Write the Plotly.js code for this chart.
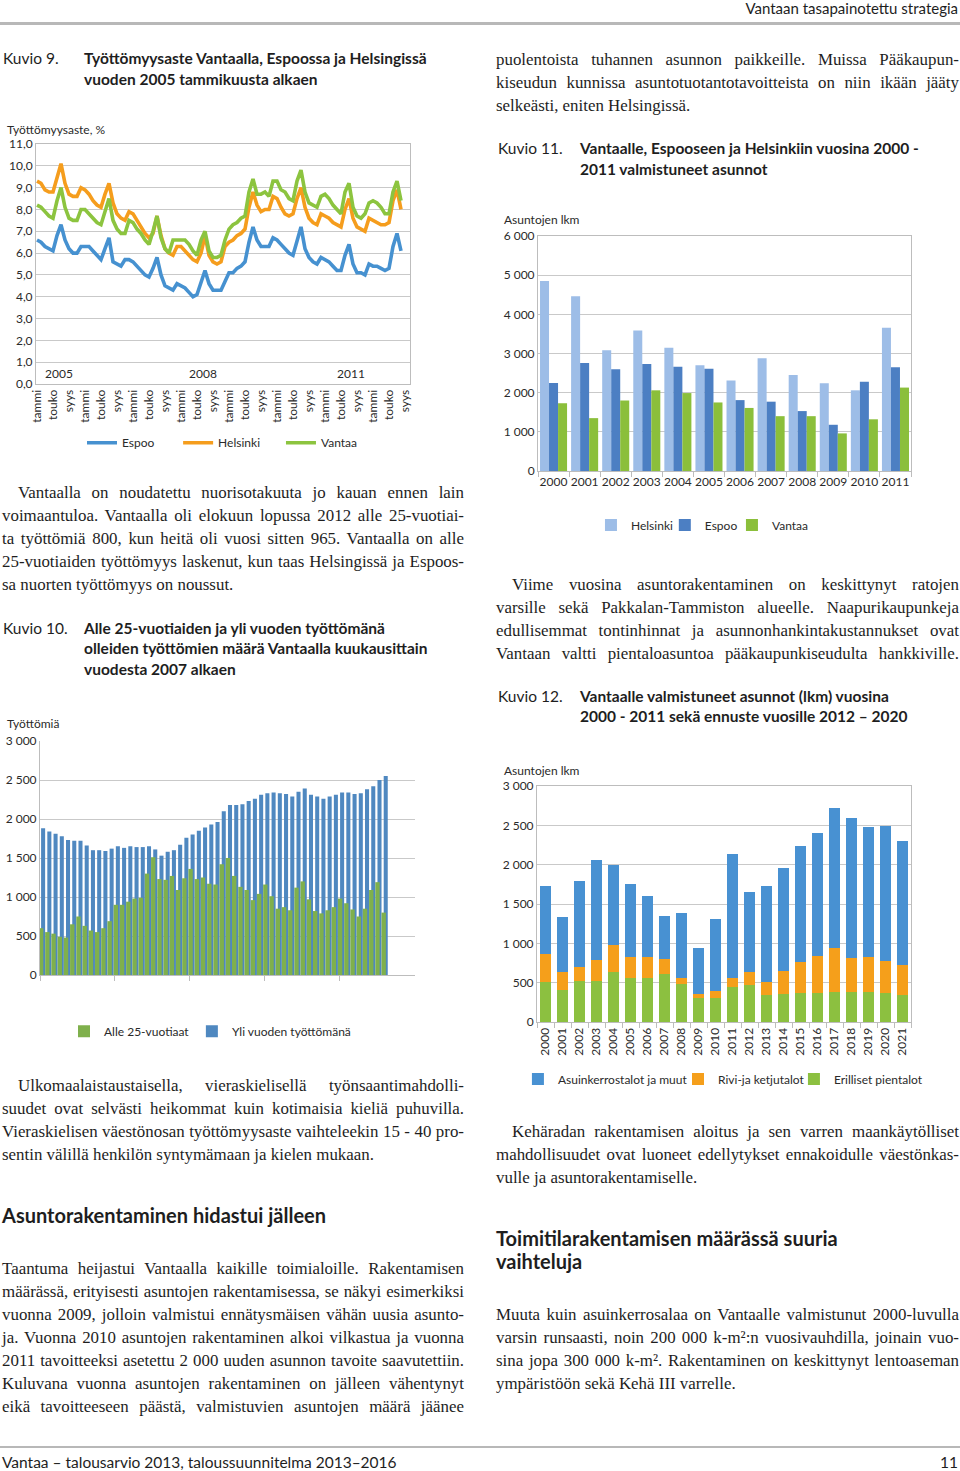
<!DOCTYPE html>
<html><head><meta charset="utf-8">
<script src="https://cdn.plot.ly/plotly-3.0.1.min.js"></script>
<style>
html,body{margin:0;padding:0;background:#fff;}
#page{position:relative;width:960px;height:1471px;overflow:hidden;background:#fff;color:#1e1e1e;}
.s{position:absolute;font-family:'Lato',sans-serif;white-space:nowrap;}
.p{position:absolute;font-family:'Liberation Serif',serif;font-size:16.9px;line-height:23px;color:#1e1e1e;}
.p div{white-space:nowrap;}
.p .j{text-align:justify;text-align-last:justify;}
.rule{position:absolute;left:0;width:960px;background:#b8b8b8;}
.ch{position:absolute;}
</style></head>
<body><div id="page">
<div class="s" style="right:2px;top:-2px;font-size:15px;line-height:20px;">Vantaan tasapainotettu strategia</div>
<div class="rule" style="top:22px;height:3px;"></div>

<div class="s" style="left:3px;top:48px;font-size:15.5px;line-height:21px;">Kuvio 9.</div>
<div class="s" style="left:84px;top:48px;font-size:15.5px;line-height:21px;font-weight:bold;">Työttömyysaste Vantaalla, Espoossa ja Helsingissä<br>vuoden 2005 tammikuusta alkaen</div>

<div class="p" style="left:2px;top:480.5px;width:462px;">
<div class="j" style="padding-left:16px;">Vantaalla on noudatettu nuorisotakuuta jo kauan ennen lain</div>
<div class="j">voimaantuloa. Vantaalla oli elokuun lopussa 2012 alle 25-vuotiai-</div>
<div class="j">ta työttömiä 800, kun heitä oli vuosi sitten 965. Vantaalla on alle</div>
<div class="j">25-vuotiaiden työttömyys laskenut, kun taas Helsingissä ja Espoos-</div>
<div>sa nuorten työttömyys on noussut.</div>
</div>

<div class="s" style="left:3px;top:617.5px;font-size:15.5px;line-height:20.5px;">Kuvio 10.</div>
<div class="s" style="left:84px;top:617.5px;font-size:15.5px;line-height:20.5px;font-weight:bold;">Alle 25-vuotiaiden ja yli vuoden työttömänä<br>olleiden työttömien määrä Vantaalla kuukausittain<br>vuodesta 2007 alkaen</div>

<div class="p" style="left:2px;top:1073.5px;width:462px;">
<div class="j" style="padding-left:16px;">Ulkomaalaistaustaisella, vieraskielisellä työnsaantimahdolli-</div>
<div class="j">suudet ovat selvästi heikommat kuin kotimaisia kieliä puhuvilla.</div>
<div class="j">Vieraskielisen väestönosan työttömyysaste vaihteleekin 15 - 40 pro-</div>
<div>sentin välillä henkilön syntymämaan ja kielen mukaan.</div>
</div>

<div class="s" style="left:2px;top:1203px;font-size:20px;line-height:24px;font-weight:bold;">Asuntorakentaminen hidastui jälleen</div>

<div class="p" style="left:2px;top:1256.5px;width:462px;">
<div class="j">Taantuma heijastui Vantaalla kaikille toimialoille. Rakentamisen</div>
<div class="j">määrässä, erityisesti asuntojen rakentamisessa, se näkyi esimerkiksi</div>
<div class="j">vuonna 2009, jolloin valmistui ennätysmäisen vähän uusia asunto-</div>
<div class="j">ja. Vuonna 2010 asuntojen rakentaminen alkoi vilkastua ja vuonna</div>
<div class="j">2011 tavoitteeksi asetettu 2 000 uuden asunnon tavoite saavutettiin.</div>
<div class="j">Kuluvana vuonna asuntojen rakentaminen on jälleen vähentynyt</div>
<div class="j">eikä tavoitteeseen päästä, valmistuvien asuntojen määrä jäänee</div>
</div>

<div class="p" style="left:496px;top:47.5px;width:463px;">
<div class="j">puolentoista tuhannen asunnon paikkeille. Muissa Pääkaupun-</div>
<div class="j">kiseudun kunnissa asuntotuotantotavoitteista on niin ikään jääty</div>
<div>selkeästi, eniten Helsingissä.</div>
</div>

<div class="s" style="left:498px;top:137.5px;font-size:15.5px;line-height:21px;">Kuvio 11.</div>
<div class="s" style="left:580px;top:137.5px;font-size:15.5px;line-height:21px;font-weight:bold;">Vantaalle, Espooseen ja Helsinkiin vuosina 2000 -<br>2011 valmistuneet asunnot</div>

<div class="p" style="left:496px;top:572.5px;width:463px;">
<div class="j" style="padding-left:16px;">Viime vuosina asuntorakentaminen on keskittynyt ratojen</div>
<div class="j">varsille sekä Pakkalan-Tammiston alueelle. Naapurikaupunkeja</div>
<div class="j">edullisemmat tontinhinnat ja asunnonhankintakustannukset ovat</div>
<div class="j">Vantaan valtti pientaloasuntoa pääkaupunkiseudulta hankkiville.</div>
</div>

<div class="s" style="left:498px;top:685.5px;font-size:15.5px;line-height:20.5px;">Kuvio 12.</div>
<div class="s" style="left:580px;top:685.5px;font-size:15.5px;line-height:20.5px;font-weight:bold;">Vantaalle valmistuneet asunnot (lkm) vuosina<br>2000 - 2011 sekä ennuste vuosille 2012 – 2020</div>

<div class="p" style="left:496px;top:1119.5px;width:463px;">
<div class="j" style="padding-left:16px;">Kehäradan rakentamisen aloitus ja sen varren maankäytölliset</div>
<div class="j">mahdollisuudet ovat luoneet edellytykset ennakoidulle väestönkas-</div>
<div>vulle ja asuntorakentamiselle.</div>
</div>

<div class="s" style="left:496px;top:1226.5px;font-size:20px;line-height:23px;font-weight:bold;">Toimitilarakentamisen määrässä suuria<br>vaihteluja</div>

<div class="p" style="left:496px;top:1302.5px;width:463px;">
<div class="j">Muuta kuin asuinkerrosalaa on Vantaalle valmistunut 2000-luvulla</div>
<div class="j">varsin runsaasti, noin 200 000 k-m²:n vuosivauhdilla, joinain vuo-</div>
<div class="j">sina jopa 300 000 k-m². Rakentaminen on keskittynyt lentoaseman</div>
<div>ympäristöön sekä Kehä III varrelle.</div>
</div>

<div class="rule" style="top:1446px;height:2px;"></div>
<div class="s" style="left:2px;top:1452px;font-size:15.5px;line-height:20px;">Vantaa – talousarvio 2013, taloussuunnitelma 2013–2016</div>
<div class="s" style="right:2px;top:1452px;font-size:15.5px;line-height:20px;">11</div>

<div id="c9" class="ch" style="left:0;top:120px;width:420px;height:340px;"></div>
<div id="c10" class="ch" style="left:0;top:700px;width:430px;height:360px;"></div>
<div id="c11" class="ch" style="left:490px;top:200px;width:470px;height:350px;"></div>
<div id="c12" class="ch" style="left:490px;top:750px;width:470px;height:350px;"></div>
</div>
<script>
// ---------- Kuvio 9: unemployment rate, monthly Jan 2005 – Aug 2012 ----------
var monthLabels9 = ['tammi','touko','syys'];
var yearLabels9 = ['2005','2008','2011'];
var espoo9 = [
 6.6,6.5,6.3,6.2,6.1,6.8,7.3,6.6,6.2,6.0,6.0,6.3,
 6.3,6.3,6.1,5.9,5.7,6.2,6.7,5.6,5.5,5.4,5.7,5.7,
 5.6,5.4,5.2,5.0,4.9,5.3,5.8,5.0,4.5,4.4,4.3,4.6,
 4.5,4.4,4.2,4.0,4.1,4.6,5.2,4.6,4.3,4.3,4.3,4.7,
 5.1,5.1,5.3,5.4,5.6,6.5,7.2,6.6,6.3,6.3,6.3,6.7,
 6.6,6.4,6.2,6.0,5.9,6.6,7.2,6.2,5.8,5.6,5.5,5.8,
 5.7,5.6,5.4,5.2,5.2,5.9,6.4,5.5,5.1,5.1,5.0,5.5,
 5.4,5.4,5.3,5.2,5.3,6.3,6.9,6.1];
var helsinki9 = [
 9.3,9.2,8.9,8.8,8.8,9.5,10.1,9.2,8.7,8.6,8.6,9.0,
 8.9,8.7,8.4,8.2,8.1,8.7,9.2,8.3,7.8,7.6,7.5,7.9,
 7.8,7.5,7.2,6.9,6.7,6.9,7.7,6.8,6.2,6.0,5.9,6.3,
 6.3,6.1,5.9,5.7,5.6,6.0,6.8,5.9,5.6,5.5,5.6,6.3,
 6.5,6.6,6.8,6.9,7.1,8.1,8.8,8.2,7.9,8.0,8.0,8.6,
 8.5,8.1,7.8,7.7,7.8,8.5,9.0,8.1,7.6,7.4,7.3,7.8,
 7.7,7.6,7.4,7.3,7.2,8.0,8.5,7.6,7.2,7.1,7.0,7.6,
 7.5,7.4,7.3,7.3,7.4,8.4,8.9,8.0];
var vantaa9 = [
 8.2,8.1,7.9,7.7,7.6,8.4,9.0,8.1,7.6,7.5,7.5,8.0,
 8.0,7.8,7.6,7.4,7.3,7.9,8.5,7.5,7.1,6.9,6.9,7.5,
 7.4,7.1,6.9,6.6,6.4,7.0,7.7,6.7,6.2,6.0,6.6,6.6,
 6.6,6.6,6.4,6.1,5.9,6.6,7.0,6.1,5.8,5.8,5.9,6.6,
 7.1,7.3,7.4,7.6,7.7,8.8,9.4,8.7,8.7,8.8,8.6,9.3,
 9.3,8.9,8.8,8.5,8.4,9.3,9.8,8.8,8.3,8.2,8.1,8.6,
 8.7,8.5,8.2,8.0,7.8,8.8,9.2,8.1,7.7,7.6,7.8,8.3,
 8.4,8.3,8.1,7.8,7.8,8.8,9.3,8.4];

// ---------- Kuvio 10: monthly Jan 2008 – Aug 2012 ----------
var yearLabels10 = ['2008','2010','2012'];
var alle25 = [600,550,530,490,480,650,750,630,570,550,600,690,
 900,900,940,980,990,1300,1510,1230,1220,1270,1090,1240,
 1360,1230,1250,1170,1160,1420,1500,1270,1130,1090,960,1040,
 1160,1010,850,870,830,1120,1200,970,820,790,830,870,
 980,920,840,750,850,1090,1190,800];
var yliVuoden = [1880,1840,1810,1780,1730,1720,1720,1660,1600,1600,1590,1620,
 1650,1630,1650,1640,1640,1650,1610,1530,1580,1600,1670,1760,
 1800,1850,1890,1930,1960,2100,2180,2180,2190,2230,2260,2310,
 2330,2340,2330,2320,2290,2350,2390,2310,2290,2260,2290,2310,
 2340,2340,2320,2330,2380,2420,2500,2550];

// ---------- Kuvio 11 ----------
var years11 = ['2000','2001','2002','2003','2004','2005','2006','2007','2008','2009','2010','2011'];
var helsinki11 = [4850,4460,3080,3590,3150,2700,2310,2880,2450,2240,2060,3660];
var espoo11 = [2250,2760,2600,2730,2660,2610,1810,1770,1530,1180,2280,2650];
var vantaa11 = [1730,1350,1800,2060,1990,1750,1610,1400,1400,960,1320,2130];

// ---------- Kuvio 12 ----------
var years12 = ['2000','2001','2002','2003','2004','2005','2006','2007','2008','2009','2010',
 '2011','2012','2013','2014','2015','2016','2017','2018','2019','2020','2021'];
var erilliset = [505,410,515,515,635,565,565,615,480,300,310,440,465,345,355,370,365,385,380,380,375,345];
var rivi = [365,225,180,275,340,265,260,185,85,55,90,120,170,165,290,395,475,555,430,450,395,375];
var asuinkerros = [860,695,1095,1270,1015,920,775,550,825,585,910,1570,1015,1225,1315,1470,1565,1775,1785,1655,1725,1585];

var FONT = {family:'Lato, sans-serif', size:12, color:'#2a2a2a'};
var GRID = '#c9c9c9', LINE = '#bdbdbd';
var cfg = {staticPlot:true, displayModeBar:false};
function leg(x, y){ return {orientation:'h', x:x, xanchor:'left', y:y, yanchor:'middle', font:{size:12}, bgcolor:'rgba(0,0,0,0)'}; }

// ---- chart 9
(function(){
  var n = espoo9.length;
  var x = []; for (var i=0;i<n;i++) x.push(i);
  var tv = [], tt = [];
  for (var k=0;k<=n;k+=4){ tv.push(k); tt.push(monthLabels9[(k/4)%3]); }
  var gv = []; for (var g=12; g<n; g+=12) gv.push(g);
  var mk = function(name, y, c, lg){ return {type:'scatter', mode:'lines', name:name, x:x, y:y, legend:lg,
     line:{color:c, width:3.6, shape:'linear'}}; };
  var data = [mk('Espoo', espoo9, '#4691d0', 'legend'), mk('Helsinki', helsinki9, '#f59d1d', 'legend2'), mk('Vantaa', vantaa9, '#8cc43f', 'legend3')];
  var yrPos = [5.5, 41.5, 78.5];
  var ann = yearLabels9.map(function(t,i){ return {x:yrPos[i], y:0.5, xref:'x', yref:'y', text:t, showarrow:false, yanchor:'middle', font:{size:12}}; });
  ann.push({x:-0.083, y:1.0625, xref:'paper', yref:'paper', xanchor:'left', yanchor:'middle', text:'Työttömyysaste, %', showarrow:false, font:{size:12}});
  Plotly.newPlot('c9', data, {
    width:420, height:340, margin:{l:36,r:10,t:24,b:76,autoexpand:false}, font:FONT, separators:', ',
    paper_bgcolor:'rgba(0,0,0,0)', plot_bgcolor:'#fff',
    showlegend:true,
    legend:leg(0.123,-0.245), legend2:leg(0.38,-0.245), legend3:leg(0.655,-0.245),
    xaxis:{range:[-0.25,93.25], tickmode:'array', tickvals:tv, ticktext:tt, tickangle:-90, showgrid:false, zeroline:false,
           showline:true, mirror:true, linecolor:LINE, ticks:'', tickfont:{size:12}},
    xaxis2:{overlaying:'x', anchor:'y', range:[-0.25,93.25], tickmode:'array', tickvals:gv, showgrid:true, gridcolor:GRID,
           showticklabels:false, ticks:'', zeroline:false, showline:false},
    yaxis:{range:[0,11], dtick:1, tickformat:'.1f', gridcolor:GRID, showline:true, mirror:true, linecolor:LINE, ticks:'', zeroline:false},
    annotations:ann
  }, cfg);
})();

// ---- chart 10
(function(){
  var n = yliVuoden.length;
  var x = []; for (var i=0;i<n;i++) x.push(i);
  var tb = []; for (var b=0; b<n; b+=12) tb.push(b-0.5);
  var data = [
    {type:'bar', name:'Yli vuoden työttömänä', x:x, y:yliVuoden, marker:{color:'#4f88c0'}, width:0.65, offset:-0.325, legend:'legend2'},
    {type:'bar', name:'Alle 25-vuotiaat', x:x, y:alle25, marker:{color:'#7fb04c'}, width:0.7, offset:-0.675, legend:'legend'}
  ];
  Plotly.newPlot('c10', data, {
    width:430, height:360, margin:{l:40,r:15,t:41,b:85,autoexpand:false}, font:FONT, separators:', ',
    paper_bgcolor:'rgba(0,0,0,0)', plot_bgcolor:'#fff', barmode:'overlay',
    showlegend:true,
    legend:leg(0.064,-0.24), legend2:leg(0.405,-0.24),
    xaxis:{range:[-0.5,59.7], tickmode:'array', tickvals:tb, showticklabels:false, ticks:'outside', ticklen:5, tickcolor:LINE,
           showgrid:false, zeroline:false, showline:true, linecolor:LINE},
    xaxis2:{overlaying:'x', anchor:'y', range:[-0.5,59.7], tickmode:'array', tickvals:[6,29.5,52.5], ticktext:yearLabels10,
           showgrid:false, ticks:'', zeroline:false, showline:false, side:'bottom', tickfont:{size:12}, ticklabelstandoff:6},
    yaxis:{range:[0,3000], dtick:500, tickformat:',', gridcolor:GRID, showline:true, linecolor:LINE, ticks:'', zeroline:false},
    annotations:[{x:-0.093, y:1.073, xref:'paper', yref:'paper', xanchor:'left', yanchor:'middle', text:'Työttömiä', showarrow:false, font:{size:12}}]
  }, cfg);
})();

// ---- chart 11
Plotly.newPlot('c11', [
  {type:'bar', name:'Helsinki', x:years11, y:helsinki11, marker:{color:'#9dbde7'}, legend:'legend'},
  {type:'bar', name:'Espoo', x:years11, y:espoo11, marker:{color:'#4c7fc3'}, legend:'legend2'},
  {type:'bar', name:'Vantaa', x:years11, y:vantaa11, marker:{color:'#8bbf3b'}, legend:'legend3'}
], {
  width:470, height:350, margin:{l:48,r:49,t:36,b:79,autoexpand:false}, font:FONT, separators:', ',
  paper_bgcolor:'rgba(0,0,0,0)', plot_bgcolor:'#fff', barmode:'group', bargap:0.13, bargroupgap:0,
  showlegend:true,
  legend:leg(0.142,-0.23), legend2:leg(0.340,-0.23), legend3:leg(0.520,-0.23),
  xaxis:{type:'category', ticks:'outside', tickson:'boundaries', ticklen:5, tickcolor:LINE, tickangle:0, showgrid:false, zeroline:false,
         showline:true, mirror:true, linecolor:LINE, tickfont:{size:12}},
  yaxis:{range:[0,6000], dtick:1000, tickformat:',', gridcolor:GRID, showline:true, mirror:true, linecolor:LINE, ticks:'', zeroline:false},
  annotations:[{x:-0.0965, y:1.072, xref:'paper', yref:'paper', xanchor:'left', yanchor:'middle', text:'Asuntojen lkm', showarrow:false, font:{size:12}}]
}, cfg);

// ---- chart 12
Plotly.newPlot('c12', [
  {type:'bar', name:'Erilliset pientalot', x:years12, y:erilliset, marker:{color:'#8cc040'}, legend:'legend3'},
  {type:'bar', name:'Rivi-ja ketjutalot', x:years12, y:rivi, marker:{color:'#f59f1b'}, legend:'legend2'},
  {type:'bar', name:'Asuinkerrostalot ja muut', x:years12, y:asuinkerros, marker:{color:'#4891d2'}, legend:'legend'}
], {
  width:470, height:350, margin:{l:47,r:49,t:36,b:78,autoexpand:false}, font:FONT, separators:', ',
  paper_bgcolor:'rgba(0,0,0,0)', plot_bgcolor:'#fff', barmode:'stack', bargap:0.3,
  showlegend:true,
  legend:leg(-0.051,-0.2415), legend2:leg(0.377,-0.2415), legend3:leg(0.687,-0.2415),
  xaxis:{type:'category', ticks:'outside', tickson:'boundaries', ticklen:5, tickcolor:LINE, tickangle:-90, showgrid:false, zeroline:false,
         showline:true, mirror:true, linecolor:LINE, tickfont:{size:12}},
  yaxis:{range:[0,3000], dtick:500, tickformat:',', gridcolor:GRID, showline:true, mirror:true, linecolor:LINE, ticks:'', zeroline:false},
  annotations:[{x:-0.094, y:1.064, xref:'paper', yref:'paper', xanchor:'left', yanchor:'middle', text:'Asuntojen lkm', showarrow:false, font:{size:12}}]
}, cfg);
</script>
</body></html>
